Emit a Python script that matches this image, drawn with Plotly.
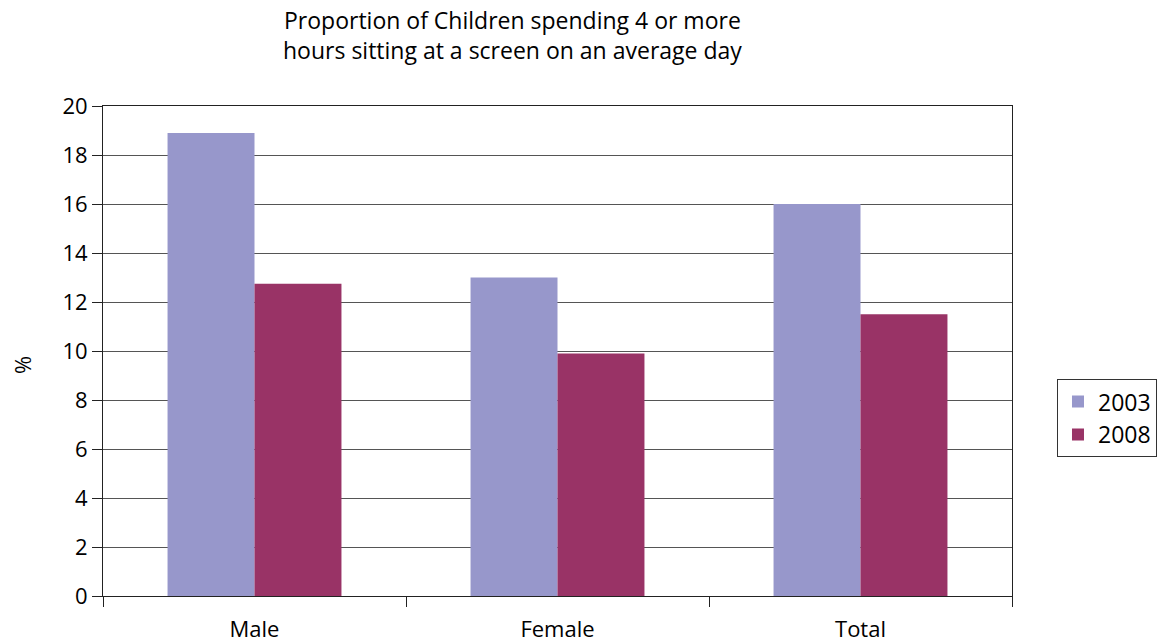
import plotly.graph_objects as go

categories = ["Male", "Female", "Total"]
values_2003 = [18.9, 13.0, 16.0]
values_2008 = [12.75, 9.9, 11.5]
y_ticks = [0, 2, 4, 6, 8, 10, 12, 14, 16, 18, 20]

FONT = "Open Sans"
TITLE = "Proportion of Children spending 4 or more<br>hours sitting at a screen on an average day"

fig = go.Figure()
fig.add_trace(go.Bar(name="2003", x=categories, y=values_2003,
                     marker=dict(color="#9797CB", line=dict(width=0))))
fig.add_trace(go.Bar(name="2008", x=categories, y=values_2008,
                     marker=dict(color="#993366", line=dict(width=0))))

fig.update_layout(
    width=1161, height=644,
    margin=dict(l=103, r=149, t=106, b=48, autoexpand=False),
    paper_bgcolor="white", plot_bgcolor="white",
    barmode="group", bargap=0.426, bargroupgap=0,
    font=dict(family=FONT, size=22, color="black"),
    legend=dict(x=1.0495, xanchor="left", y=0.363, yanchor="middle",
                bordercolor="#333333", borderwidth=1,
                font=dict(family=FONT, size=23, color="black"),
                itemsizing="constant", entrywidth=125, tracegroupgap=0),
    showlegend=True,
    annotations=[
        dict(text=TITLE, x=0.451, xref="paper", xanchor="center",
             y=1.0 + 38 / 490, yref="paper", yanchor="bottom",
             showarrow=False, align="center",
             font=dict(family=FONT, size=23, color="black")),
        dict(text="%", x=-81 / 909, xref="paper", xanchor="center",
             y=(596 - 365) / 490, yref="paper", yanchor="middle",
             textangle=-90, showarrow=False,
             font=dict(family=FONT, size=22, color="black")),
    ],
)
fig.update_xaxes(
    type="category", showline=True, linecolor="#222222", linewidth=1,
    mirror=True, ticks="outside", tickson="boundaries", ticklen=10,
    tickcolor="#222222", showgrid=False, ticklabelstandoff=14,
    tickfont=dict(family=FONT, size=22, color="black"),
)
fig.update_yaxes(
    range=[0, 20], tickvals=y_ticks, showline=True, linecolor="#222222",
    linewidth=1, mirror=True, ticks="outside", ticklen=10, tickcolor="#222222",
    showgrid=True, gridcolor="#555555", gridwidth=1, zeroline=False,
    tickfont=dict(family=FONT, size=22, color="black"),
)
fig.write_html("out.html")
